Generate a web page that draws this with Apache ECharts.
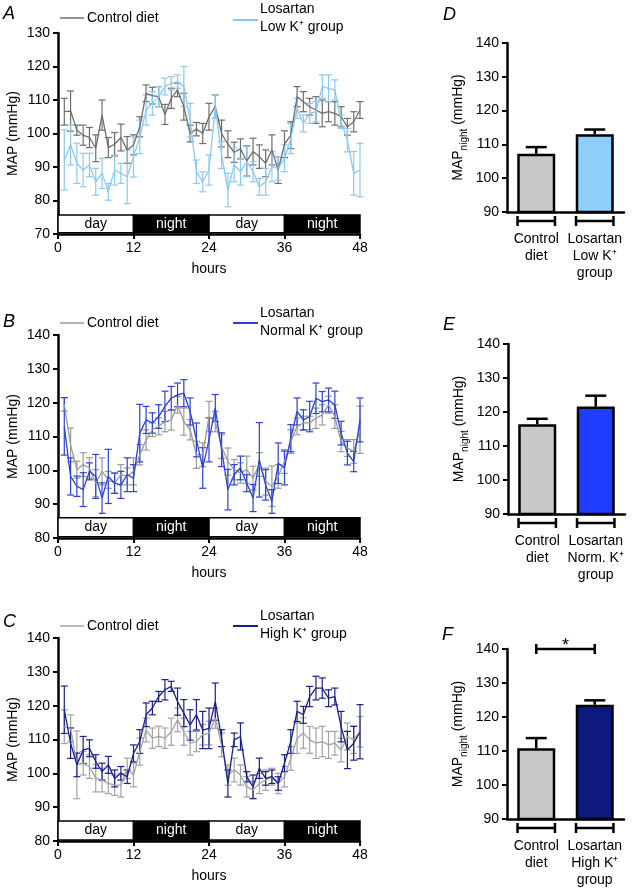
<!DOCTYPE html>
<html><head><meta charset="utf-8">
<script src="https://cdn.jsdelivr.net/npm/echarts@6/dist/echarts.min.js"></script>
<style>html,body{margin:0;padding:0;background:#fff}#c{width:633px;height:890px}</style>
</head><body><div id="c"></div>
<script>
// ---------------- DATA ----------------
const hours = [1,2,3,4,5,6,7,8,9,10,11,12,13,14,15,16,17,18,19,20,21,22,23,24,25,26,27,28,29,30,31,32,33,34,35,36,37,38,39,40,41,42,43,44,45,46,47,48];
const hourTicks = [0,12,24,36,48];
const phases = ['day','night','day','night'];
const phaseBounds = [0,12,24,36,48];

// Panel A
const aControl = [106.5,106.7,101.0,99.5,98.8,95.6,105.5,95.8,96.8,98.8,95.1,96.6,102.0,112.0,111.3,111.0,105.7,110.5,113.0,108.0,100.0,101.3,100.0,105.0,108.0,100.0,96.8,94.4,95.4,91.8,94.6,93.1,91.1,95.1,89.1,96.8,99.5,111.0,109.5,108.0,107.0,106.0,106.5,106.0,105.0,102.0,103.5,107.0];
const aControlErr = [4,6,1.5,3,3,4,4.5,3,3.5,4,4,3,3,2.5,2.5,3,3,3,2,4,2.5,2,3,4,3.5,4,4,3,3,4.5,4,3.5,4,4.5,4,4,4,3,3,2.5,4,4,3,3.5,3,2.5,3,2.5];
const aLosartan = [92.1,96.6,91.1,89.1,90.6,85.6,88.1,82.6,89.1,88.1,87.1,93.0,99.0,107.0,109.0,111.0,114.0,115.0,115.5,114.0,104.0,88.6,85.6,89.1,108.0,93.6,83.1,90.6,88.6,91.6,88.6,84.1,85.6,90.1,89.6,92.6,98.5,107.5,103.0,106.0,106.5,114.0,113.5,113.0,103.5,98.0,88.1,89.1];
const aLosartanErr = [9,6,6,5,3.5,4,4.5,2.5,4.5,3,8,6,5,4.5,3.5,3,2.5,2,2,6,5,3.5,3,4.5,3.5,4,5,5,4,4.5,3,2.5,4,4.5,3.5,4,4.5,3,2.5,3,3,3.5,4,3,2,3.5,6.5,8];

// Panel B
const bControl = [119.5,107.5,100.2,101.7,100.7,96.2,99.7,97.2,96.2,98.7,98.2,99.7,104.6,109.0,112.0,113.0,114.4,114.9,119.4,114.4,112.0,104.6,104.6,115.9,114.4,107.0,102.6,100.2,99.2,100.2,97.7,101.7,96.7,95.3,98.2,102.6,108.5,113.0,114.0,114.0,115.4,116.4,119.4,115.9,108.5,106.6,105.6,112.0];
const bControlErr = [2,5,2.5,3.5,3,4,4,2.5,3,3,2.5,4,3,3,2,2.5,3,3,2.5,4,3,4,3.5,4.5,3,3.5,4,3,3,4,3.5,3.5,4,6,3.5,3.5,3.5,2.5,2,2,3,3,2.5,3.5,3,2.5,3.5,7];
const bLosartan = [113.0,98.2,95.3,94.3,99.7,98.2,91.8,98.2,96.2,95.7,98.7,97.7,111.0,114.9,114.0,115.9,118.9,121.3,122.3,122.8,117.4,109.0,100.7,109.0,118.4,106.1,94.3,98.7,100.7,96.2,91.8,103.1,95.7,90.8,102.1,100.7,109.5,117.4,114.9,115.9,121.3,120.3,120.8,119.4,111.0,105.1,102.6,114.9];
const bLosartanErr = [8.5,5.5,3,5,2.5,6.5,4.5,8,3,4,5,4,8.5,4,3,3.5,4.5,3.5,3.5,4,4,5,6,6.5,4,5,6,3,3.5,2.5,4,11,4.5,3.5,6,5,4,4,3,4.5,4.5,3,3.5,4,3.5,3.5,3,6.5];

// Panel C
const cControl = [113.8,113.3,102.5,103.0,102.0,98.5,98.0,97.0,96.5,96.5,101.5,99.5,106.4,112.8,110.4,110.9,110.4,112.3,115.8,112.3,108.9,109.4,111.4,111.9,116.3,108.4,99.5,101.0,99.5,96.0,95.1,97.0,98.0,99.0,97.0,99.0,104.4,110.4,111.9,109.9,108.9,109.4,108.4,108.9,106.9,110.9,109.9,112.3];
const cControlErr = [5,4,10,3.5,3.5,4,3.5,3,3,3.5,3,3.5,4,3.5,3,3,3,4,3.5,4,3.5,3,3,3.5,3,3.5,3,3.5,3,3,2.5,3,3,2.5,3,3,3.5,4.5,4.5,4,4.5,4.5,4,3.5,3.5,4,4,4.5];
const cLosartan = [118.8,108.9,102.5,106.9,107.4,103.5,100.5,102.5,98.5,100.0,99.0,105.9,109.4,117.3,119.3,122.7,124.7,125.7,121.2,117.8,114.3,117.3,112.8,113.3,121.2,110.4,97.0,109.9,110.9,99.0,96.0,101.5,98.5,99.0,97.0,103.0,109.4,118.3,117.3,122.7,125.2,125.2,122.2,122.7,113.8,106.9,108.9,112.3];
const cLosartanErr = [7,4.5,3.5,4,2.5,2,2.5,2.5,2.5,2,2,2.5,3.5,3.5,2,1.5,3,1.5,4,4,4.5,4.5,5.5,6,5.5,2.5,4,2,4,1.5,3.5,3,2,2,2,2.5,3.5,3,2.5,3,3.5,3,2.5,2.5,4.5,5.5,5,8];

// Bar panels D, E, F
const barCatsD = ['Control\ndiet','Losartan\nLow K\u207A\ngroup'];
const barCatsE = ['Control\ndiet','Losartan\nNorm. K\u207A\ngroup'];
const barCatsF = ['Control\ndiet','Losartan\nHigh K\u207A\ngroup'];
const barMeansD = [107.2, 113.0];
const barErrD = [2.0, 1.4];
const barMeansE = [116.4, 121.6];
const barErrE = [1.6, 3.2];
const barMeansF = [110.8, 123.6];
const barErrF = [3.0, 1.3];
const sigPairF = [0, 1];
const sigLevelF = 140;
const sigLabelF = '*';

// ---------------- STYLE / LAYOUT ----------------
const FONT = '"Liberation Sans", Arial, Helvetica, sans-serif';
const lineColors = [
  ['#6e6e6e', '#8cc9f0'],
  ['#9a9a9a', '#2b42d6'],
  ['#a3a3a3', '#1b1f8a']
];
const barColors = [
  ['#c8c8c8', '#8fcdfb'],
  ['#c8c8c8', '#1f3cff'],
  ['#c8c8c8', '#0c1a80']
];
const lineGrids = [
  {left:58, top:33, width:302, height:201},
  {left:58, top:335, width:302, height:203},
  {left:58, top:638, width:302, height:203}
];
const barGrids = [
  {left:507, top:43, width:117, height:169},
  {left:508, top:344, width:117, height:170},
  {left:507, top:649, width:117, height:170}
];
const yRanges = [[70,130],[80,140],[80,140]];
const phaseBand = [[70.4,75.7],[80.4,86.0],[80.3,85.9]];

const panels = [
  {ctrl:aControl, ctrlErr:aControlErr, los:aLosartan, losErr:aLosartanErr},
  {ctrl:bControl, ctrlErr:bControlErr, los:bLosartan, losErr:bLosartanErr},
  {ctrl:cControl, ctrlErr:cControlErr, los:cLosartan, losErr:cLosartanErr}
];
const barPanels = [
  {cats:barCatsD, means:barMeansD, errs:barErrD},
  {cats:barCatsE, means:barMeansE, errs:barErrE},
  {cats:barCatsF, means:barMeansF, errs:barErrF}
];

function errRender(color, capHalf, lw) {
  return function (params, api) {
    const x = api.value(0), lo = api.value(1), hi = api.value(2);
    const p1 = api.coord([x, lo]), p2 = api.coord([x, hi]);
    const st = {stroke: color, lineWidth: lw};
    return {type:'group', children:[
      {type:'line', shape:{x1:p1[0], y1:p1[1], x2:p2[0], y2:p2[1]}, style:st},
      {type:'line', shape:{x1:p1[0]-capHalf, y1:p1[1], x2:p1[0]+capHalf, y2:p1[1]}, style:st},
      {type:'line', shape:{x1:p2[0]-capHalf, y1:p2[1], x2:p2[0]+capHalf, y2:p2[1]}, style:st}
    ]};
  };
}

const grid = [], xAxis = [], yAxis = [], series = [];
const axisLineStyle = {color:'#000', width:2.5};
const labelStyle = {fontSize:14, color:'#000', fontFamily:FONT};

panels.forEach((p, i) => {
  grid.push(lineGrids[i]);
  xAxis.push({gridIndex:i, type:'value', min:0, max:48, interval:12,
    axisLine:{show:true, onZero:false, lineStyle:axisLineStyle},
    axisTick:{show:true, length:5, lineStyle:{color:'#000', width:2}},
    axisLabel:Object.assign({margin:7}, labelStyle),
    splitLine:{show:false},
    name:'hours', nameLocation:'middle', nameGap:28,
    nameTextStyle:{fontSize:14, color:'#000', fontFamily:FONT}});
  yAxis.push({gridIndex:i, type:'value', min:yRanges[i][0], max:yRanges[i][1], interval:10,
    axisLine:{show:true, lineStyle:axisLineStyle},
    axisTick:{show:true, length:5, lineStyle:{color:'#000', width:2}},
    axisLabel:Object.assign({margin:8}, labelStyle),
    splitLine:{show:false},
    name:'MAP (mmHg)', nameLocation:'middle', nameGap:38,
    nameTextStyle:{fontSize:14, color:'#000', fontFamily:FONT}});
  const band = phaseBand[i];
  series.push({type:'line', xAxisIndex:i, yAxisIndex:i, data:hours.map((h,k)=>[h,p.ctrl[k]]),
    showSymbol:false, symbol:'none', lineStyle:{color:lineColors[i][0], width:1.3}, z:3, animation:false,
    markArea:{silent:true, data: phases.map((ph,k)=>[
      {xAxis:phaseBounds[k], yAxis:band[0],
       itemStyle:{color: ph==='day'?'#fff':'#000', borderColor:'#000', borderWidth:1.5},
       label:{show:true, position:'inside', formatter:ph, color: ph==='day'?'#000':'#fff', fontSize:14, fontFamily:FONT}},
      {xAxis:phaseBounds[k+1], yAxis:band[1]}
    ])}});
  series.push({type:'custom', xAxisIndex:i, yAxisIndex:i, renderItem:errRender(lineColors[i][0], 3.5, 1.2),
    data:hours.map((h,k)=>[h, p.ctrl[k]-p.ctrlErr[k], p.ctrl[k]+p.ctrlErr[k]]),
    encode:{x:0, y:[1,2]}, z:2, animation:false});
  series.push({type:'line', xAxisIndex:i, yAxisIndex:i, data:hours.map((h,k)=>[h,p.los[k]]),
    showSymbol:false, symbol:'none', lineStyle:{color:lineColors[i][1], width:1.3}, z:4, animation:false});
  series.push({type:'custom', xAxisIndex:i, yAxisIndex:i, renderItem:errRender(lineColors[i][1], 3.5, 1.2),
    data:hours.map((h,k)=>[h, p.los[k]-p.losErr[k], p.los[k]+p.losErr[k]]),
    encode:{x:0, y:[1,2]}, z:3, animation:false});
});

barPanels.forEach((bp, j) => {
  const gi = 3 + j;
  grid.push(barGrids[j]);
  xAxis.push({gridIndex:gi, type:'category', data:bp.cats,
    axisLine:{show:true, lineStyle:axisLineStyle}, axisTick:{show:false},
    axisLabel:Object.assign({margin:19, lineHeight:17, interval:0}, labelStyle)});
  yAxis.push({gridIndex:gi, type:'value', min:90, max:140, interval:10,
    axisLine:{show:true, lineStyle:axisLineStyle},
    axisTick:{show:true, length:5, lineStyle:{color:'#000', width:2}},
    axisLabel:Object.assign({margin:8}, labelStyle),
    splitLine:{show:false},
    name:'{a|MAP}{b|night}{a| (mmHg)}', nameLocation:'middle', nameGap:38,
    nameTextStyle:{color:'#000', fontFamily:FONT, rich:{
      a:{fontSize:14, color:'#000', fontFamily:FONT, lineHeight:22},
      b:{fontSize:10, color:'#000', fontFamily:FONT, verticalAlign:'bottom', lineHeight:14}}}});
  series.push({type:'bar', xAxisIndex:gi, yAxisIndex:gi, barWidth:38, animation:false,
    data: bp.means.map((m,k)=>({value:m, itemStyle:{color:barColors[j][k], borderColor:'#000', borderWidth:2.5}})), z:2});
  series.push({type:'custom', xAxisIndex:gi, yAxisIndex:gi, animation:false, z:3,
    data: bp.means.map((m,k)=>[k, m, m+bp.errs[k]]),
    renderItem: function(params, api){
      const c0 = api.coord([api.value(0), api.value(1)]);
      const c1 = api.coord([api.value(0), api.value(2)]);
      const st = {stroke:'#000', lineWidth:2.5};
      return {type:'group', children:[
        {type:'line', shape:{x1:c0[0], y1:c0[1], x2:c1[0], y2:c1[1]}, style:st},
        {type:'line', shape:{x1:c1[0]-10.5, y1:c1[1], x2:c1[0]+10.5, y2:c1[1]}, style:st}
      ]};
    }});
  // group bracket under each bar
  series.push({type:'custom', xAxisIndex:gi, yAxisIndex:gi, animation:false, clip:false, z:3,
    data: bp.means.map((m,k)=>[k, 90]),
    renderItem: function(params, api){
      const c = api.coord([api.value(0), api.value(1)]);
      const hw = api.size([1,0])[0]*0.32;
      const y = c[1] + 9;
      const st = {stroke:'#000', lineWidth:2.5};
      return {type:'group', children:[
        {type:'line', shape:{x1:c[0]-hw, y1:y, x2:c[0]+hw, y2:y}, style:st},
        {type:'line', shape:{x1:c[0]-hw, y1:y-5, x2:c[0]-hw, y2:y+5}, style:st},
        {type:'line', shape:{x1:c[0]+hw, y1:y-5, x2:c[0]+hw, y2:y+5}, style:st}
      ]};
    }});
});

// significance bracket on F
series.push({type:'custom', xAxisIndex:5, yAxisIndex:5, animation:false, clip:false, z:4,
  data:[[sigPairF[0], sigLevelF]],
  renderItem: function(params, api){
    const a = api.coord([sigPairF[0], sigLevelF]);
    const b = api.coord([sigPairF[1], sigLevelF]);
    const st = {stroke:'#000', lineWidth:2.5};
    return {type:'group', children:[
      {type:'line', shape:{x1:a[0], y1:a[1], x2:b[0], y2:b[1]}, style:st},
      {type:'line', shape:{x1:a[0], y1:a[1]-5, x2:a[0], y2:a[1]+5}, style:st},
      {type:'line', shape:{x1:b[0], y1:b[1]-5, x2:b[0], y2:b[1]+5}, style:st},
      {type:'text', style:{text:sigLabelF, x:(a[0]+b[0])/2, y:a[1]-3, align:'center', verticalAlign:'middle', fontSize:18, fontFamily:FONT, fill:'#000'}}
    ]};
  }});

// legends and panel letters
const graphic = [];
function txt(x, y, t, opts) {
  graphic.push(Object.assign({type:'text', x:x, y:y, silent:true,
    style:Object.assign({text:t, fontSize:14, fontFamily:FONT, fill:'#000', verticalAlign:'middle', align:'left'}, opts||{})}));
}
function seg(x1, x2, y, color, w) {
  graphic.push({type:'line', silent:true, shape:{x1:x1, y1:y, x2:x2, y2:y}, style:{stroke:color, lineWidth:w}});
}
const legendRows = [
  {ctrlY:18, losY1:9, losY2:27, losLineY:20, name:'Low K\u207A group'},
  {ctrlY:323, losY1:313, losY2:331, losLineY:323, name:'Normal K\u207A group'},
  {ctrlY:626, losY1:616, losY2:634, losLineY:626, name:'High K\u207A group'}
];
const letters = [['A',3,14],['B',3,322],['C',3,622],['D',443,15],['E',443,325],['F',442,635]];
legendRows.forEach((r,i)=>{
  seg(60, 84, r.ctrlY, lineColors[i][0], 1.5);
  txt(87, r.ctrlY, 'Control diet');
  seg(233, 258, r.losLineY, lineColors[i][1], 2);
  txt(260, r.losY1, 'Losartan');
  txt(260, r.losY2, r.name);
});
letters.forEach(l=>txt(l[1], l[2], l[0], {fontSize:18, fontStyle:'italic'}));

const chart = echarts.init(document.getElementById('c'), null, {renderer:'canvas'});
chart.setOption({animation:false, backgroundColor:'#fff', grid, xAxis, yAxis, series, graphic});
</script></body></html>
